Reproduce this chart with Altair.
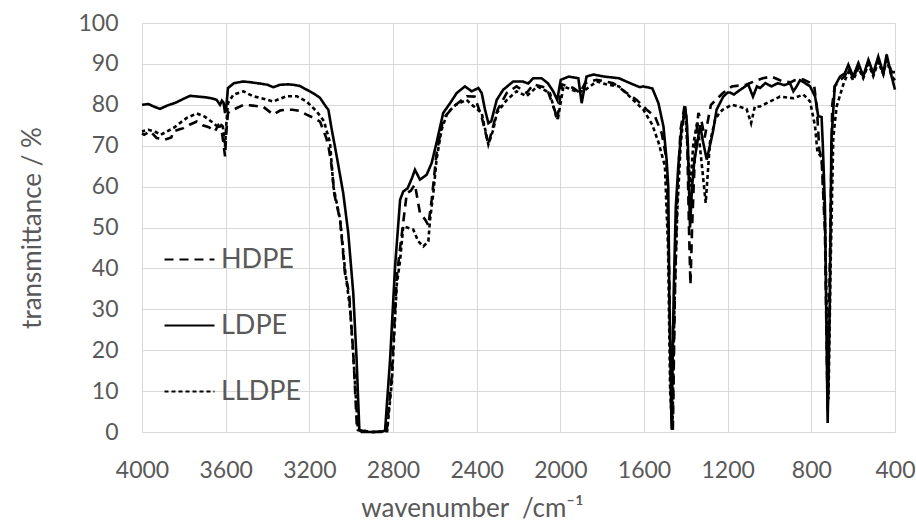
import altair as alt
import pandas as pd

# (wavenumber cm^-1, transmittance %)
LDPE = [(4000,80.0),(3970,80.2),(3940,79.5),(3914,79.0),(3880,79.8),(3840,80.5),(3800,81.5),(3770,82.2),
        (3730,82.0),(3690,81.8),(3660,81.5),(3643,81.2),(3627,80.0),(3618,81.0),(3610,80.5),(3603,78.0),
        (3597,79.5),(3589,84.1),(3560,85.3),(3515,85.7),(3480,85.5),(3437,85.2),(3400,84.9),(3372,84.3),
        (3340,84.9),(3300,85.0),(3277,84.9),(3245,84.6),(3213,83.7),(3180,82.8),(3149,81.7),(3120,79.5),
        (3109,78.8),(3093,74.0),(3069,67.4),(3038,58.4),(3014,48.7),(2990,34.0),(2974,17.7),(2961,0.6),
        (2950,0.0),(2900,0.0),(2860,0.0),(2838,0.3),(2814,17.7),(2790,40.5),(2766,56.8),(2751,58.8),
        (2730,59.6),(2710,62.0),(2695,64.1),(2671,61.7),(2639,62.9),(2615,65.8),(2592,70.7),(2560,78.0),
        (2527,80.4),(2495,82.9),(2456,84.5),(2424,83.3),(2392,84.1),(2376,82.9),(2360,78.8),(2344,75.5),
        (2330,76.0),(2304,81.2),(2273,83.7),(2225,85.7),(2180,85.7),(2154,85.2),(2129,86.5),(2090,86.5),
        (2060,85.3),(2034,83.3),(2015,81.2),(1998,86.1),(1960,86.9),(1914,86.5),(1898,80.4),(1875,86.9),
        (1842,87.4),(1790,86.9),(1720,86.5),(1667,85.3),(1619,84.3),(1603,84.5),(1560,84.0),(1531,80.4),
        (1507,74.7),(1492,66.6),(1484,60.0),(1479,34.0),(1468,0.6),(1458,34.0),(1448,55.0),(1436,65.0),
        (1420,74.7),(1404,78.0),(1397,77.3),(1390,70.0),(1380,50.0),(1370,60.0),(1360,66.0),(1348,69.8),
        (1332,75.0),(1318,71.0),(1300,66.6),(1285,70.0),(1270,73.5),(1253,78.8),(1221,82.0),(1200,83.0),
        (1189,83.0),(1170,82.5),(1150,83.3),(1130,84.0),(1102,85.0),(1079,82.0),(1060,84.5),(1045,84.1),
        (1020,85.3),(990,84.5),(960,85.3),(930,84.8),(902,85.3),(886,83.3),(870,84.5),(854,86.0),
        (830,85.3),(806,84.5),(782,82.0),(767,77.2),(751,77.0),(745,70.0),(735,55.2),(722,2.2),
        (712,30.7),(704,71.5),(688,84.5),(663,86.9),(640,87.7),(623,89.8),(600,86.9),(575,90.2),
        (552,87.0),(527,91.0),(504,87.7),(480,91.8),(456,87.7),(440,92.3),(416,86.9),(400,83.7)]

HDPE = [(4000,73.0),(3990,72.7),(3960,73.5),(3930,71.9),(3890,71.5),(3860,72.0),(3850,73.5),(3820,74.0),
        (3802,74.3),(3770,75.2),(3738,75.9),(3710,75.0),(3680,74.5),(3651,73.5),(3635,75.0),(3620,74.0),
        (3611,70.7),(3603,67.4),(3596,74.0),(3589,78.0),(3563,78.8),(3515,80.0),(3470,79.8),(3420,79.5),
        (3372,77.6),(3340,78.6),(3308,78.8),(3280,78.8),(3245,78.5),(3213,77.6),(3180,76.8),(3149,75.9),
        (3120,72.0),(3109,70.0),(3093,64.9),(3080,58.0),(3053,51.9),(3030,38.9),(3010,34.0),(2990,19.3),
        (2972,0.5),(2900,0.0),(2830,0.2),(2806,13.6),(2782,38.0),(2766,45.0),(2734,58.4),(2715,59.0),
        (2695,60.5),(2671,53.5),(2647,52.0),(2631,50.5),(2615,56.8),(2592,68.0),(2560,76.6),(2510,79.6),
        (2448,82.1),(2410,82.0),(2376,77.0),(2344,70.3),(2320,75.0),(2300,78.8),(2256,82.9),(2209,84.5),
        (2161,82.9),(2129,85.0),(2065,84.1),(2025,78.4),(2014,76.4),(1993,85.0),(1938,84.1),(1906,82.9),
        (1882,85.3),(1826,86.1),(1747,85.3),(1683,82.9),(1635,81.2),(1587,78.8),(1547,77.1),(1515,73.0),
        (1492,66.6),(1480,40.0),(1470,5.0),(1462,0.5),(1452,35.0),(1440,60.0),(1425,74.0),(1404,80.4),
        (1395,75.0),(1385,50.0),(1378,36.0),(1370,50.0),(1355,70.0),(1340,78.0),(1325,76.0),(1310,72.0),
        (1295,76.0),(1280,80.0),(1256,81.2),(1224,82.8),(1180,84.5),(1112,84.9),(1060,86.0),(1032,86.5),
        (990,86.9),(950,86.0),(928,85.7),(900,85.5),(880,86.0),(840,86.2),(810,85.5),(786,84.5),
        (774,79.6),(762,69.0),(751,66.9),(735,49.0),(722,5.0),(712,40.0),(700,80.0),(688,84.5),
        (663,86.0),(640,87.0),(623,89.0),(600,86.5),(575,89.5),(552,87.0),(527,90.5),(504,87.5),
        (480,91.0),(456,87.5),(440,91.5),(416,88.0),(400,88.0)]

LLDPE = [(4000,73.5),(3970,73.9),(3940,73.5),(3910,72.7),(3880,73.5),(3850,74.3),(3820,75.5),(3786,76.8),
         (3738,77.9),(3700,77.1),(3660,75.6),(3630,74.3),(3615,75.5),(3603,69.8),(3596,76.0),(3589,80.4),
         (3563,82.5),(3515,83.3),(3470,82.1),(3420,81.5),(3372,80.8),(3340,81.5),(3308,82.1),(3260,82.1),
         (3213,80.8),(3165,78.4),(3130,76.0),(3101,70.7),(3085,60.0),(3053,52.0),(3030,40.0),(3005,30.0),
         (2990,19.0),(2968,0.5),(2900,0.0),(2828,0.2),(2806,12.0),(2782,36.0),(2766,42.0),(2751,50.3),
         (2703,49.5),(2679,46.6),(2655,45.4),(2631,46.6),(2623,51.9),(2607,58.4),(2592,66.6),(2568,73.9),
         (2540,78.0),(2500,80.0),(2448,81.2),(2432,80.4),(2376,78.0),(2344,70.3),(2320,74.0),(2304,78.0),
         (2256,81.2),(2209,83.3),(2161,82.1),(2110,84.5),(2050,82.9),(2020,77.1),(2012,76.5),(1985,84.5),
         (1925,83.3),(1890,83.3),(1826,85.7),(1780,85.0),(1720,84.5),(1670,82.1),(1603,78.8),(1560,75.1),
         (1530,70.7),(1500,65.0),(1485,45.0),(1475,10.0),(1464,0.5),(1455,30.0),(1440,55.0),(1425,70.0),
         (1410,78.0),(1400,76.0),(1390,68.0),(1378,60.0),(1365,70.0),(1345,76.0),(1325,66.0),(1305,56.0),
         (1285,70.7),(1260,76.4),(1240,78.0),(1224,78.8),(1180,80.0),(1150,79.6),(1110,79.0),(1088,75.5),
         (1070,79.6),(1045,79.6),(998,80.8),(950,82.0),(886,81.6),(838,82.5),(806,80.8),(782,74.7),
         (771,68.5),(750,67.0),(735,52.0),(718,8.0),(708,40.0),(695,72.0),(679,79.6),(647,85.0),
         (623,88.0),(600,86.0),(575,89.0),(552,86.5),(527,90.0),(504,87.0),(480,90.5),(456,87.5),
         (440,91.0),(416,87.0),(400,86.0)]

SERIES = ["HDPE", "LDPE", "LLDPE"]
DASHES = [[9, 6], [1, 0], [4, 3]]
X_TICKS = [4000, 3600, 3200, 2800, 2400, 2000, 1600, 1200, 800, 400]
Y_TICKS = [0, 10, 20, 30, 40, 50, 60, 70, 80, 90, 100]

rows = []
for name, pts in zip(SERIES, [HDPE, LDPE, LLDPE]):
    for wn, t in pts:
        rows.append({"sample": name, "wn": wn, "T": t})
df = pd.DataFrame(rows)

FONT = "Lato"
GRAY = "#595959"

chart = alt.Chart(df).mark_line(color="black", strokeWidth=2.6).encode(
    x=alt.X("wn:Q",
            scale=alt.Scale(domain=[400, 4000], reverse=True, nice=False),
            axis=alt.Axis(values=X_TICKS, format="d", title="wavenumber\u00a0\u00a0/cm⁻¹",
                          labelPadding=27, labelFlush=False, labelOverlap=False,
                          titleX=330, titleY=84, titleBaseline="alphabetic")),
    y=alt.Y("T:Q",
            scale=alt.Scale(domain=[0, 100], nice=False),
            axis=alt.Axis(values=Y_TICKS, format="d", title="transmittance / %",
                          labelPadding=24, labelFlush=False, labelOverlap=False,
                          titleX=-110, titleY=204.5,
                          titleAngle=270, titleBaseline="middle")),
    strokeDash=alt.StrokeDash("sample:N",
            scale=alt.Scale(domain=SERIES, range=DASHES),
            legend=alt.Legend(title=None, orient="none", legendX=21, legendY=210,
                              symbolType="stroke", symbolSize=2500,
                              symbolStrokeWidth=2.2, symbolStrokeColor="black",
                              labelFontSize=27, labelColor=GRAY, labelFont=FONT,
                              rowPadding=26, padding=0, labelOffset=5)),
    order=alt.Order("wn:Q"),
).properties(
    width=753, height=409,
    padding={"left": 142, "top": 23, "right": 21, "bottom": 95},
    autosize=alt.AutoSizeParams(type="none"),
    background="white",
).configure_view(stroke=None).configure_axis(
    grid=True, gridColor="#d9d9d9", gridWidth=1, domain=False, ticks=False,
    labelFont=FONT, labelFontSize=23, labelColor=GRAY,
    titleFont=FONT, titleFontSize=26, titleColor=GRAY, titleFontWeight="normal",
)

chart.save("out.html", embed_options={"renderer": "svg", "actions": False})
